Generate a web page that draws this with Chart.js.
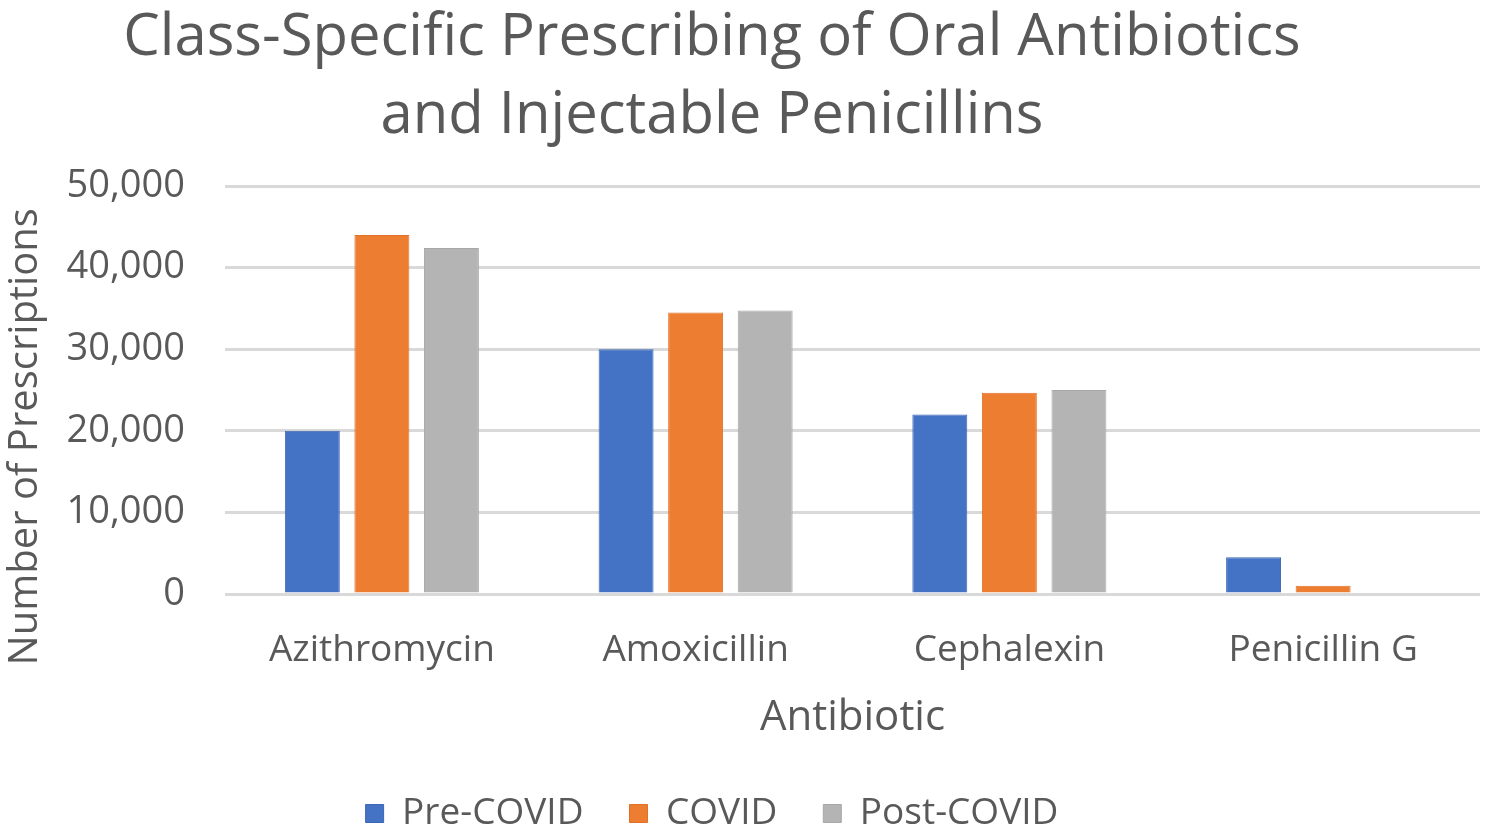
<!DOCTYPE html>
<html>
<head>
<meta charset="utf-8">
<script src="https://cdn.jsdelivr.net/npm/chart.js@4/dist/chart.umd.min.js"></script>
<style>
  html, body { margin: 0; padding: 0; background: #fff; }
  #wrap { width: 1488px; height: 833px; }
</style>
</head>
<body>
<div id="wrap"><canvas id="chart"></canvas></div>
<script>
// data
var antibiotics = ["Azithromycin", "Amoxicillin", "Cephalexin", "Penicillin G"];
var preCovid = [20000, 30000, 22000, 4500];
var covid = [44000, 34500, 24650, 1000];
var postCovid = [42400, 34750, 25000, 0];
var yTicks = [0, 10000, 20000, 30000, 40000, 50000];

var grey = "#595959";
var fontName = "'Open Sans', sans-serif";

var ctx = document.getElementById("chart").getContext("2d");
var chart = new Chart(ctx, {
  type: "bar",
  data: {
    labels: antibiotics,
    datasets: [
      { label: "Pre-COVID", data: preCovid, backgroundColor: "#4472C4", borderColor: "#3c66b4", borderWidth: 1 },
      { label: "COVID", data: covid, backgroundColor: "#ED7D31", borderColor: "#e0712a", borderWidth: 1 },
      { label: "Post-COVID", data: postCovid, backgroundColor: "#B4B4B4", borderColor: "#a8a8a8", borderWidth: 1 }
    ]
  },
  options: {
    responsive: true,
    maintainAspectRatio: false,
    devicePixelRatio: 1,
    animation: false,
    // negative left padding pulls the centred title/legend a bit left, like the original
    layout: { padding: { left: -56, right: 8, top: 0, bottom: -9 } },
    datasets: {
      bar: { categoryPercentage: 0.665, barPercentage: 0.79 }
    },
    plugins: {
      title: {
        display: true,
        text: ["Class-Specific Prescribing of Oral Antibiotics", "and Injectable Penicillins"],
        color: grey,
        font: { family: fontName, size: 58, weight: "normal", lineHeight: 1.345 },
        padding: { top: -1, bottom: 31 }
      },
      legend: {
        position: "bottom",
        labels: {
          color: grey,
          font: { family: fontName, size: 37 },
          boxWidth: 18,
          boxHeight: 18,
          padding: 46
        }
      },
      tooltip: { enabled: false }
    },
    scales: {
      x: {
        afterFit: function (scale) { scale.height = 155; },
        grid: { display: false, drawTicks: false },
        border: { display: false },
        ticks: { color: grey, font: { family: fontName, size: 37 }, padding: 34 },
        title: {
          display: true,
          text: "Antibiotic",
          color: grey,
          font: { family: fontName, size: 42 },
          padding: { top: 21, bottom: 6 }
        }
      },
      y: {
        min: 0,
        max: 50000,
        afterBuildTicks: function (scale) {
          scale.ticks = yTicks.map(function (v) { return { value: v }; });
        },
        afterFit: function (scale) { scale.width = 281; },
        grid: { color: "#d9d9d9", lineWidth: 3, drawTicks: false },
        border: { display: false },
        ticks: {
          color: grey,
          font: { family: fontName, size: 38 },
          padding: 40,
          callback: function (v) { return v.toLocaleString("en-US"); }
        },
        title: {
          display: true,
          text: "Number of Prescriptions         ",
          color: grey,
          font: { family: fontName, size: 40 },
          padding: { top: 58, bottom: 18 }
        }
      }
    }
  }
});
</script>
</body>
</html>
